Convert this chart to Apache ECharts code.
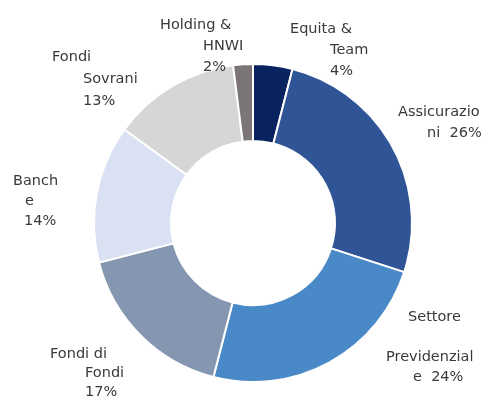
<!DOCTYPE html>
<html>
<head>
<meta charset="utf-8">
<script src="https://cdn.jsdelivr.net/npm/echarts@6/dist/echarts.min.js"></script>
<style>
    html, body { margin: 0; padding: 0; background: #fff; }
    #main { width: 481px; height: 401px; }
</style>
</head>
<body>
<div id="main"></div>
<script>
// dati
let categories = ['Equita & Team', 'Assicurazioni', 'Settore Previdenziale', 'Fondi di Fondi', 'Banche', 'Fondi Sovrani', 'Holding & HNWI'];
let values = [4, 26, 24, 17, 14, 13, 2];
// testo delle etichette, spezzato come nell'originale
let labelLines = [
    ['Equita &', 'Team', '4%'],
    ['Assicurazio', 'ni  26%'],
    ['Settore', '', 'Previdenzial', 'e  24%'],
    ['Fondi di', 'Fondi', '17%'],
    ['Banch', 'e', '14%'],
    ['Fondi', 'Sovrani', '13%'],
    ['Holding &', 'HNWI', '2%']
];

let colors = ['#08235f', '#2f5597', '#4a89c8', '#8496b0', '#d9e1f2', '#d6d6d6', '#7b7575'];
// posizione (angolo sup. sinistro), rientri e interlinea delle etichette
let labelPos = [[290, 19], [398, 102], [386, 307], [50, 345], [13, 171], [52, 46], [160, 15]];
let indents = [[0, 40, 40], [0, 29], [22, 0, 0, 27], [0, 35, 35], [0, 12, 11], [0, 31, 31], [0, 43, 43]];
let lineH = [21, 21, 20, 19, 20, 22, 21];

let data = categories.map((name, i) => {
    let rich = {};
    let parts = labelLines[i].map((txt, j) => {
        rich['l' + j] = { padding: [0, 0, 0, indents[i][j]], lineHeight: lineH[i] };
        return txt ? '{l' + j + '|' + txt + '}' : '';
    });
    return {
        name: name,
        value: values[i],
        itemStyle: { color: colors[i] },
        label: {
            formatter: parts.join('\n'),
            lineHeight: lineH[i],
            rich: rich
        }
    };
});

var myChart = echarts.init(document.getElementById('main'));
var option = {
    animation: false,
    series: [
        {
            type: 'pie',
            center: [253, 223],
            radius: [82, 159],
            startAngle: 90,
            clockwise: true,
            data: data,
            itemStyle: {
                borderColor: '#fff',
                borderWidth: 2
            },
            label: {
                show: true,
                position: 'outside',
                overflow: 'none',
                fontFamily: 'DejaVu Sans',
                fontSize: 14.5,
                color: '#3a3a3a'
            },
            labelLine: { show: false },
            labelLayout: function(params) {
                let p = labelPos[params.dataIndex];
                return { x: p[0], y: p[1], align: 'left', verticalAlign: 'top' };
            }
        }
    ]
};
myChart.setOption(option);
</script>
</body>
</html>
